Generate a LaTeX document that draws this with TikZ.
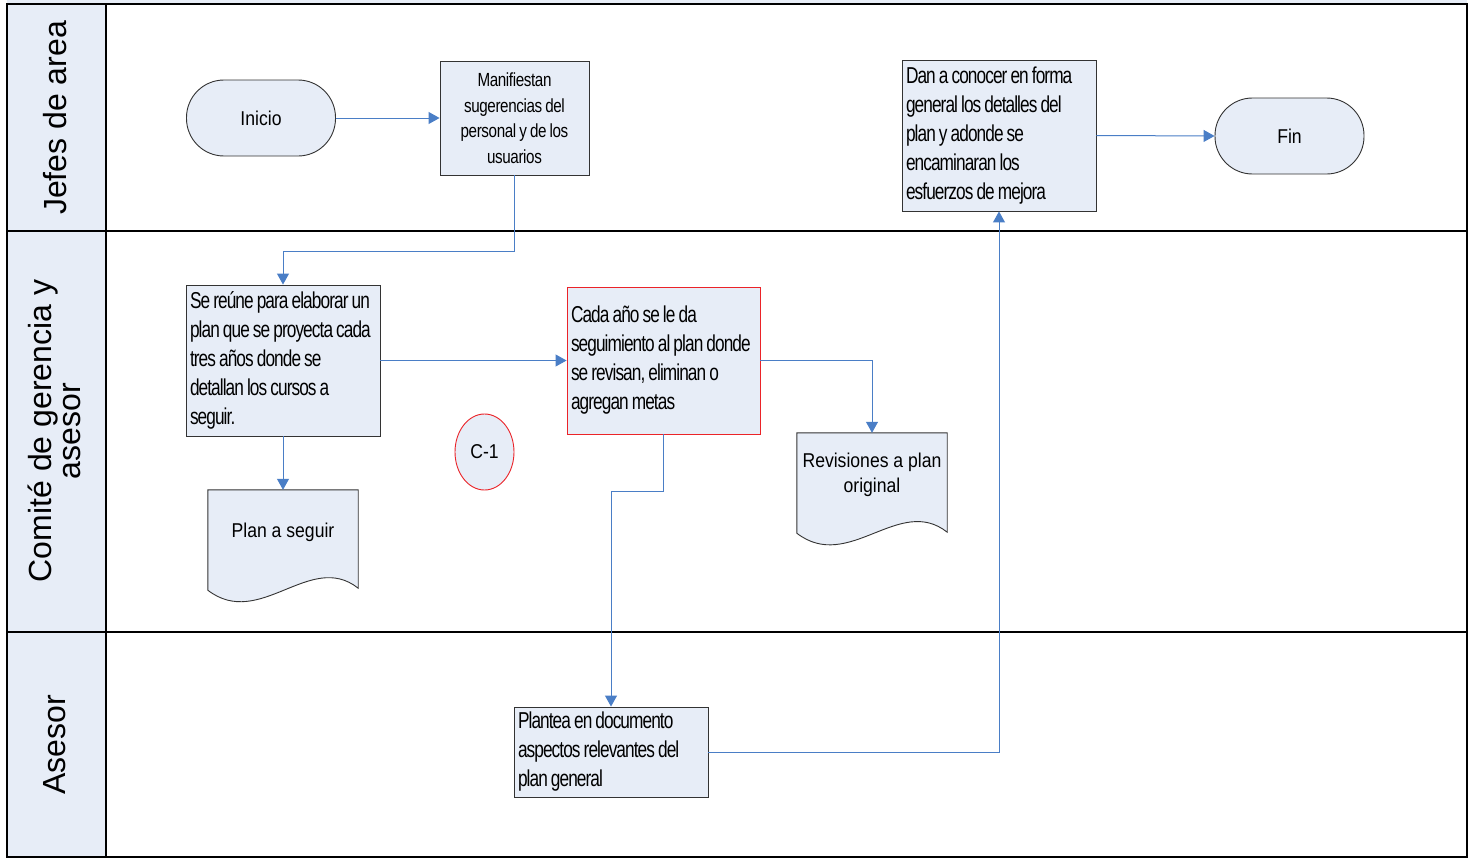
\documentclass[tikz,border=0pt]{standalone}
\usepackage{fontspec}
\setmainfont{Liberation Sans}
\newfontfamily\boxfont{Liberation Sans}[FakeStretch=0.75,LetterSpace=-4,WordSpace=0.8]
\newfontfamily\narrowfont{Liberation Sans}[FakeStretch=0.8,LetterSpace=-2,WordSpace=0.8]
\newfontfamily\labelfont{Liberation Sans}[FakeStretch=0.88]
\usetikzlibrary{arrows.meta,shapes.geometric}

\definecolor{lanefill}{RGB}{231,237,247}
\definecolor{flowblue}{RGB}{74,126,198}
\definecolor{boxred}{RGB}{235,35,40}

\begin{document}
\begin{tikzpicture}[x=1pt,y=-1pt,
  proc/.style={draw=black!80,fill=lanefill,line width=0.9pt,inner sep=4pt,
    align=flush left,font={\boxfont\fontsize{23}{29}\selectfont}},
  small/.style={font={\narrowfont\fontsize{19}{25.5}\selectfont}},
  mid/.style={font={\labelfont\fontsize{20}{25}\selectfont}},
  term/.style={draw=black!80,fill=lanefill,line width=0.9pt,rounded corners=37.5pt,
    minimum width=149pt,minimum height=76pt,mid},
  docu/.style={draw=none,minimum width=150pt,minimum height=84pt,inner sep=0pt},
  docline/.style={draw=black!80,fill=lanefill,line width=0.9pt},
  flow/.style={draw=flowblue,line width=1pt,-{Triangle[length=11pt,width=12pt]}},
  lanename/.style={rotate=90,align=center,font={\fontsize{32}{29}\selectfont}}
]
\useasboundingbox (0,0) rectangle (1469,859);

% lanes
\fill[lanefill] (7,0) rectangle (1467,4);
\fill[lanefill] (7,4) rectangle (106,857);
\draw[line width=1.1pt] (7,4) rectangle (1467,857);
\draw[line width=1.1pt] (106,4) -- (106,857);
\draw[line width=1.1pt] (7,231) -- (1467,231);
\draw[line width=1.1pt] (7,632) -- (1467,632);

\begin{scope}[every node/.style={lanename}]
\node(jefes) at(55,118) {Jefes de area};
\node(comite) at(54,431) {Comité de gerencia y\\asesor};
\node(asesor) at(55,745) {Asesor};
\end{scope}

% jefes de area
\node[term] (inicio) at(261,118) {Inicio};
\node[proc,small,align=flush center,minimum width=149pt,minimum height=114pt] (manif) at(514.5,118)
  {Manifiestan\\sugerencias del\\personal y de los\\usuarios};
\node[proc,text width=186pt,minimum height=151pt] (dan) at(999,135.5)
  {Dan a conocer en forma\\general los detalles del\\plan y adonde se\\encaminaran los\\esfuerzos de mejora};
\node[term] (fin) at(1289.5,136) {Fin};

% comite
\node[proc,text width=186pt,minimum height=151pt] (reune) at(283,360.5)
  {Se reúne para elaborar un\\plan que se proyecta cada\\tres años donde se\\detallan los cursos a\\seguir.};
\node[proc,draw=boxred,text width=185pt,minimum height=147pt] (cada) at(663.5,360.5)
  {Cada año se le da\\seguimiento al plan donde\\se revisan, eliminan o\\agregan metas};
\node[ellipse,draw=boxred,fill=lanefill,line width=0.9pt,minimum width=59pt,
  minimum height=76pt,inner sep=0pt,mid] (c1) at(484.5,452) {C-1};

\node[docu] (plan) at(283,532) {};
\draw[docline] (plan.north west) -- (plan.north east) -- ([yshift=-14pt]plan.south east)
  .. controls +(-48,-38) and +(52,40) .. ([yshift=-16pt]plan.south west) -- cycle;
\node[mid] at(plan) {Plan a seguir};

\node[docu] (revis) at(872,475) {};
\draw[docline] (revis.north west) -- (revis.north east) -- ([yshift=-15pt]revis.south east)
  .. controls +(-48,-38) and +(52,40) .. ([yshift=-16pt]revis.south west) -- cycle;
\node[mid,align=flush center] at(revis) {Revisiones a plan\\original};

% asesor
\node[proc,text width=186pt,minimum height=90pt] (plantea) at(611,752)
  {Plantea en documento\\aspectos relevantes del\\plan general};

\draw[flow] (inicio) -- (manif);
\draw[flow] (manif.south) -- ++(0,76) -| (reune.north);
\draw[flow] (reune) -- (cada);
\draw[flow] (reune) -- (plan.north);
\draw[flow] (cada.east) -| (revis.north);
\draw[flow] (cada.south) -- ++(0,57) -| (plantea.north);
\draw[flow] (plantea.east) -| (dan.south);
\draw[flow] (dan.east) -- (fin.west);

\end{tikzpicture}
\end{document}
